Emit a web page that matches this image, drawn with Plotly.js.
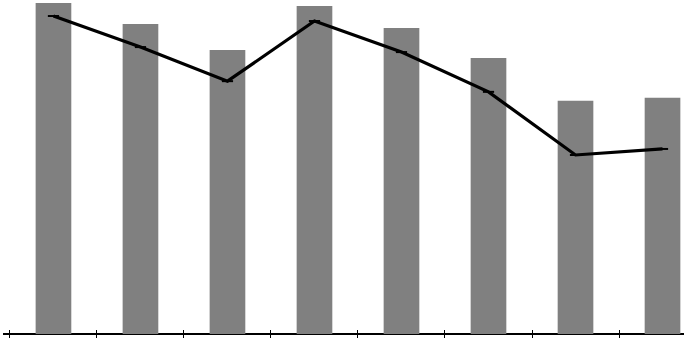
<!DOCTYPE html>
<html>
<head>
<meta charset="utf-8">
<script src="https://cdn.plot.ly/plotly-3.0.1.min.js"></script>
<style>html,body{margin:0;padding:0;background:#fff;}#chart{width:684px;height:338px;}</style>
</head>
<body>
<div id="chart"></div>
<script>
var categories = ["1", "2", "3", "4", "5", "6", "7", "8"];
var barValues = [99.1, 92.8, 85.0, 98.2, 91.6, 82.6, 69.8, 70.7];
var lineValues = [95.2, 85.9, 75.7, 93.7, 84.4, 72.5, 53.6, 55.4];

var traces = [
  {
    type: "bar",
    x: categories,
    y: barValues,
    width: 0.41,
    marker: {color: "#808080", line: {width: 0}},
    hoverinfo: "none"
  },
  {
    type: "scatter",
    mode: "lines+markers",
    x: categories,
    y: lineValues,
    line: {color: "#000", width: 3.2},
    marker: {symbol: "line-ew", size: 8, line: {color: "#000", width: 2}},
    hoverinfo: "none"
  }
];

var layout = {
  width: 684,
  height: 338,
  margin: {l: 3, r: 0, t: 0, b: 0},
  paper_bgcolor: "#fff",
  plot_bgcolor: "#fff",
  showlegend: false,
  xaxis: {
    type: "category",
    range: [-0.58, 7.247],
    showline: false,
    ticks: "inside",
    tickson: "boundaries",
    ticklen: 8,
    tickwidth: 1,
    tickcolor: "#000",
    showticklabels: false,
    showgrid: false,
    zeroline: false
  },
  yaxis: {
    range: [-1.198, 100],
    showticklabels: false,
    ticks: "",
    showgrid: false,
    zeroline: true,
    zerolinecolor: "#000",
    zerolinewidth: 1.5,
    layer: "above traces"
  }
};

Plotly.newPlot("chart", traces, layout, {staticPlot: true, displayModeBar: false});
</script>
</body>
</html>
